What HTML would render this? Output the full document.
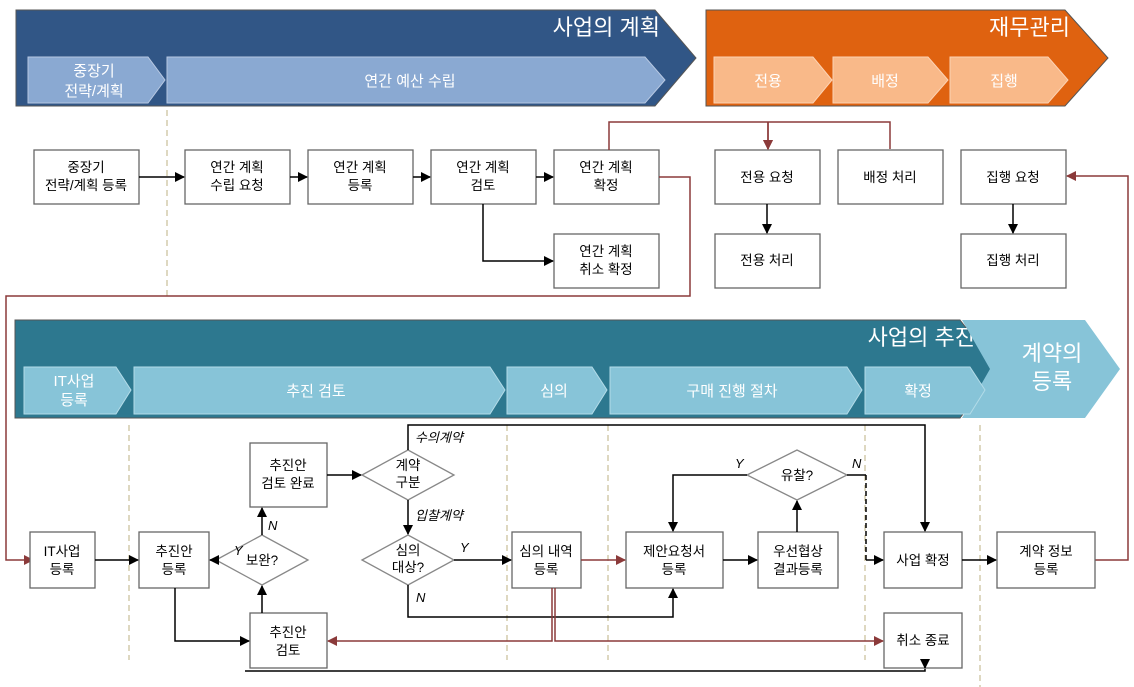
<!DOCTYPE html>
<html><head><meta charset="utf-8"><style>
body{margin:0;background:#fff}
svg{display:block;font-family:"Liberation Sans","Noto Sans CJK KR",sans-serif}
.b{fill:#fff;stroke:#666;stroke-width:1.3}
.t{font-size:13.5px;fill:#000;text-anchor:middle}
.w{fill:#fff;text-anchor:middle;font-size:15px}
.k{stroke:#000;stroke-width:1.5;fill:none}
.r{stroke:#8b3a3a;stroke-width:1.5;fill:none}
.i{font-size:13px;font-style:italic}
.d{stroke:#c8bd98;stroke-width:1.2;stroke-dasharray:6,4}
</style></head><body>
<svg width="1134" height="687" viewBox="0 0 1134 687">
<defs>
<marker id="ak" markerWidth="10" markerHeight="10" refX="9" refY="5" orient="auto" markerUnits="userSpaceOnUse"><path d="M0,0L10,5L0,10z" fill="#000"/></marker>
<marker id="ar" markerWidth="10" markerHeight="10" refX="9" refY="5" orient="auto" markerUnits="userSpaceOnUse"><path d="M0,0L10,5L0,10z" fill="#8b3a3a"/></marker>
</defs>
<!-- top bands -->
<polygon points="16,10 655,10 696,58 655,106 16,106" fill="#315686" stroke="#555"/>
<text x="660" y="35" class="w" style="font-size:22px;text-anchor:end">사업의 계획</text>
<polygon points="28,57 148,57 165,80 148,103 28,103" fill="#8aa9d2" stroke="#b7c8e2"/>
<text x="94" y="76" class="w">중장기</text><text x="94" y="96" class="w">전략/계획</text>
<polygon points="167,57 645,57 665,80 645,103 167,103" fill="#8aa9d2" stroke="#b7c8e2"/>
<text x="410" y="86" class="w">연간 예산 수립</text>
<polygon points="706,10 1065,10 1108,58 1065,106 706,106" fill="#df6210" stroke="#555"/>
<text x="1070" y="35" class="w" style="font-size:22px;text-anchor:end">재무관리</text>
<polygon points="714,57 813,57 832,80 813,103 714,103" fill="#f9b989" stroke="#fcd2b3"/>
<polygon points="833,57 928,57 948,80 928,103 833,103" fill="#f9b989" stroke="#fcd2b3"/>
<polygon points="950,57 1048,57 1068,80 1048,103 950,103" fill="#f9b989" stroke="#fcd2b3"/>
<text x="768" y="86" class="w">전용</text><text x="885" y="86" class="w">배정</text><text x="1004" y="86" class="w">집행</text>
<line x1="167" y1="110" x2="167" y2="296" class="d"/>
<!-- top boxes -->
<rect x="34" y="150" width="105" height="54" class="b"/><text x="86" y="172" class="t">중장기</text><text x="86" y="190" class="t">전략/계획 등록</text>
<rect x="185" y="150" width="105" height="54" class="b"/><text x="237" y="172" class="t">연간 계획</text><text x="237" y="190" class="t">수립 요청</text>
<rect x="308" y="150" width="105" height="54" class="b"/><text x="360" y="172" class="t">연간 계획</text><text x="360" y="190" class="t">등록</text>
<rect x="431" y="150" width="105" height="54" class="b"/><text x="483" y="172" class="t">연간 계획</text><text x="483" y="190" class="t">검토</text>
<rect x="554" y="150" width="105" height="54" class="b"/><text x="606" y="172" class="t">연간 계획</text><text x="606" y="190" class="t">확정</text>
<rect x="554" y="234" width="105" height="54" class="b"/><text x="606" y="256" class="t">연간 계획</text><text x="606" y="274" class="t">취소 확정</text>
<rect x="715" y="150" width="105" height="54" class="b"/><text x="767" y="182" class="t">전용 요청</text>
<rect x="838" y="150" width="105" height="54" class="b"/><text x="890" y="182" class="t">배정 처리</text>
<rect x="961" y="150" width="105" height="54" class="b"/><text x="1013" y="182" class="t">집행 요청</text>
<rect x="715" y="234" width="105" height="54" class="b"/><text x="767" y="265" class="t">전용 처리</text>
<rect x="961" y="234" width="105" height="54" class="b"/><text x="1013" y="265" class="t">집행 처리</text>
<path d="M139,177H184" class="k" marker-end="url(#ak)"/>
<path d="M290,177H307" class="k" marker-end="url(#ak)"/>
<path d="M413,177H430" class="k" marker-end="url(#ak)"/>
<path d="M536,177H553" class="k" marker-end="url(#ak)"/>
<path d="M483,204V261H553" class="k" marker-end="url(#ak)"/>
<path d="M767,204V233" class="k" marker-end="url(#ak)"/>
<path d="M1013,204V233" class="k" marker-end="url(#ak)"/>
<path d="M609,150V122H890V149M768,122V149" class="r" marker-end="url(#ar)"/>
<path d="M768,122V149" class="r" marker-end="url(#ar)"/>
<path d="M659,177H690V296H6V560H33" class="r" marker-end="url(#ar)"/>
<path d="M1095,560H1128V176H1067" class="r" marker-end="url(#ar)"/>
<!-- second band -->
<polygon points="15,320 960,320 998,369 960,418 15,418" fill="#2d788f" stroke="#555"/>
<text x="975" y="345" class="w" style="font-size:22px;text-anchor:end">사업의 추진</text>
<polygon points="962,320 1085,320 1120,369 1085,418 962,418 990,369" fill="#87c4d8"/>
<text x="1052" y="361" class="w" style="font-size:22px">계약의</text><text x="1052" y="389" class="w" style="font-size:22px">등록</text>
<polygon points="24,367 116,367 131,390 116,414 24,414" fill="#87c4d8" stroke="#b3dbe8"/>
<polygon points="134,367 490,367 505,390 490,414 134,414" fill="#87c4d8" stroke="#b3dbe8"/>
<polygon points="507,367 592,367 607,390 592,414 507,414" fill="#87c4d8" stroke="#b3dbe8"/>
<polygon points="610,367 847,367 862,390 847,414 610,414" fill="#87c4d8" stroke="#b3dbe8"/>
<polygon points="865,367 970,367 985,390 970,414 865,414" fill="#87c4d8" stroke="#b3dbe8"/>
<text x="74" y="386" class="w">IT사업</text><text x="74" y="405" class="w">등록</text>
<text x="316" y="396" class="w">추진 검토</text><text x="554" y="396" class="w">심의</text>
<text x="732" y="396" class="w">구매 진행 절차</text><text x="918" y="396" class="w">확정</text>
<line x1="129" y1="425" x2="129" y2="660" class="d"/><line x1="507" y1="425" x2="507" y2="660" class="d"/>
<line x1="608" y1="425" x2="608" y2="660" class="d"/><line x1="865" y1="425" x2="865" y2="660" class="d"/>
<line x1="980" y1="425" x2="980" y2="687" class="d"/>
<!-- lower nodes -->
<rect x="30" y="532" width="65" height="56" class="b"/><text x="62" y="556" class="t">IT사업</text><text x="62" y="574" class="t">등록</text>
<rect x="139" y="532" width="70" height="56" class="b"/><text x="174" y="556" class="t">추진안</text><text x="174" y="574" class="t">등록</text>
<polygon points="216,560 262,535 308,560 262,585" class="b" style="stroke:#888"/><text x="262" y="565" class="t">보완?</text>
<rect x="250" y="443" width="77" height="64" class="b"/><text x="288" y="470" class="t">추진안</text><text x="288" y="488" class="t">검토 완료</text>
<polygon points="362,475 408,450 454,475 408,500" class="b" style="stroke:#888"/><text x="408" y="470" class="t">계약</text><text x="408" y="487" class="t">구분</text>
<polygon points="362,560 408,535 454,560 408,585" class="b" style="stroke:#888"/><text x="408" y="555" class="t">심의</text><text x="408" y="572" class="t">대상?</text>
<rect x="512" y="532" width="69" height="56" class="b"/><text x="546" y="556" class="t">심의 내역</text><text x="546" y="574" class="t">등록</text>
<rect x="626" y="532" width="97" height="56" class="b"/><text x="674" y="556" class="t">제안요청서</text><text x="674" y="574" class="t">등록</text>
<rect x="758" y="532" width="80" height="56" class="b"/><text x="798" y="556" class="t">우선협상</text><text x="798" y="574" class="t">결과등록</text>
<polygon points="747,475 797,450 847,475 797,500" class="b" style="stroke:#888"/><text x="797" y="480" class="t">유찰?</text>
<rect x="884" y="532" width="78" height="56" class="b"/><text x="923" y="565" class="t">사업 확정</text>
<rect x="997" y="532" width="98" height="56" class="b"/><text x="1046" y="556" class="t">계약 정보</text><text x="1046" y="574" class="t">등록</text>
<rect x="250" y="613" width="77" height="55" class="b"/><text x="288" y="637" class="t">추진안</text><text x="288" y="655" class="t">검토</text>
<rect x="884" y="613" width="78" height="55" class="b"/><text x="923" y="645" class="t">취소 종료</text>
<!-- lower connectors -->
<path d="M95,560H138" class="k" marker-end="url(#ak)"/>
<path d="M175,588V641H249" class="k" marker-end="url(#ak)"/>
<path d="M262,613V586" class="k" marker-end="url(#ak)"/>
<path d="M216,560H210" class="k" marker-end="url(#ak)"/>
<path d="M262,535V508" class="k" marker-end="url(#ak)"/>
<path d="M327,475H361" class="k" marker-end="url(#ak)"/>
<path d="M408,450V425H925V531" class="k" marker-end="url(#ak)"/>
<path d="M408,500V534" class="k" marker-end="url(#ak)"/>
<path d="M454,560H511" class="k" marker-end="url(#ak)"/>
<path d="M408,585V617H673V589" class="k" marker-end="url(#ak)"/>
<path d="M723,560H757" class="k" marker-end="url(#ak)"/>
<path d="M797,532V501" class="k" marker-end="url(#ak)"/>
<path d="M747,475H673V531" class="k" marker-end="url(#ak)"/>
<path d="M847,475H866" class="k"/><path d="M866,475V560" class="k" style="stroke-dasharray:5,3"/>
<path d="M866,560H883" class="k" marker-end="url(#ak)"/>
<path d="M962,560H996" class="k" marker-end="url(#ak)"/>
<path d="M245,671H925V669" class="k"/>
<path d="M925,659V668" class="k" marker-end="url(#ak)"/>
<path d="M581,560H625" class="r" marker-end="url(#ar)"/>
<path d="M552,588V641H328" class="r" marker-end="url(#ar)"/>
<path d="M555,588V641H883" class="r" marker-end="url(#ar)"/>
<text x="415" y="442" class="i">수의계약</text>
<text x="415" y="520" class="i">입찰계약</text>
<text x="234" y="555" class="i">Y</text><text x="268" y="530" class="i">N</text>
<text x="460" y="552" class="i">Y</text><text x="416" y="602" class="i">N</text>
<text x="735" y="468" class="i">Y</text><text x="852" y="468" class="i">N</text>
</svg>
</body></html>
